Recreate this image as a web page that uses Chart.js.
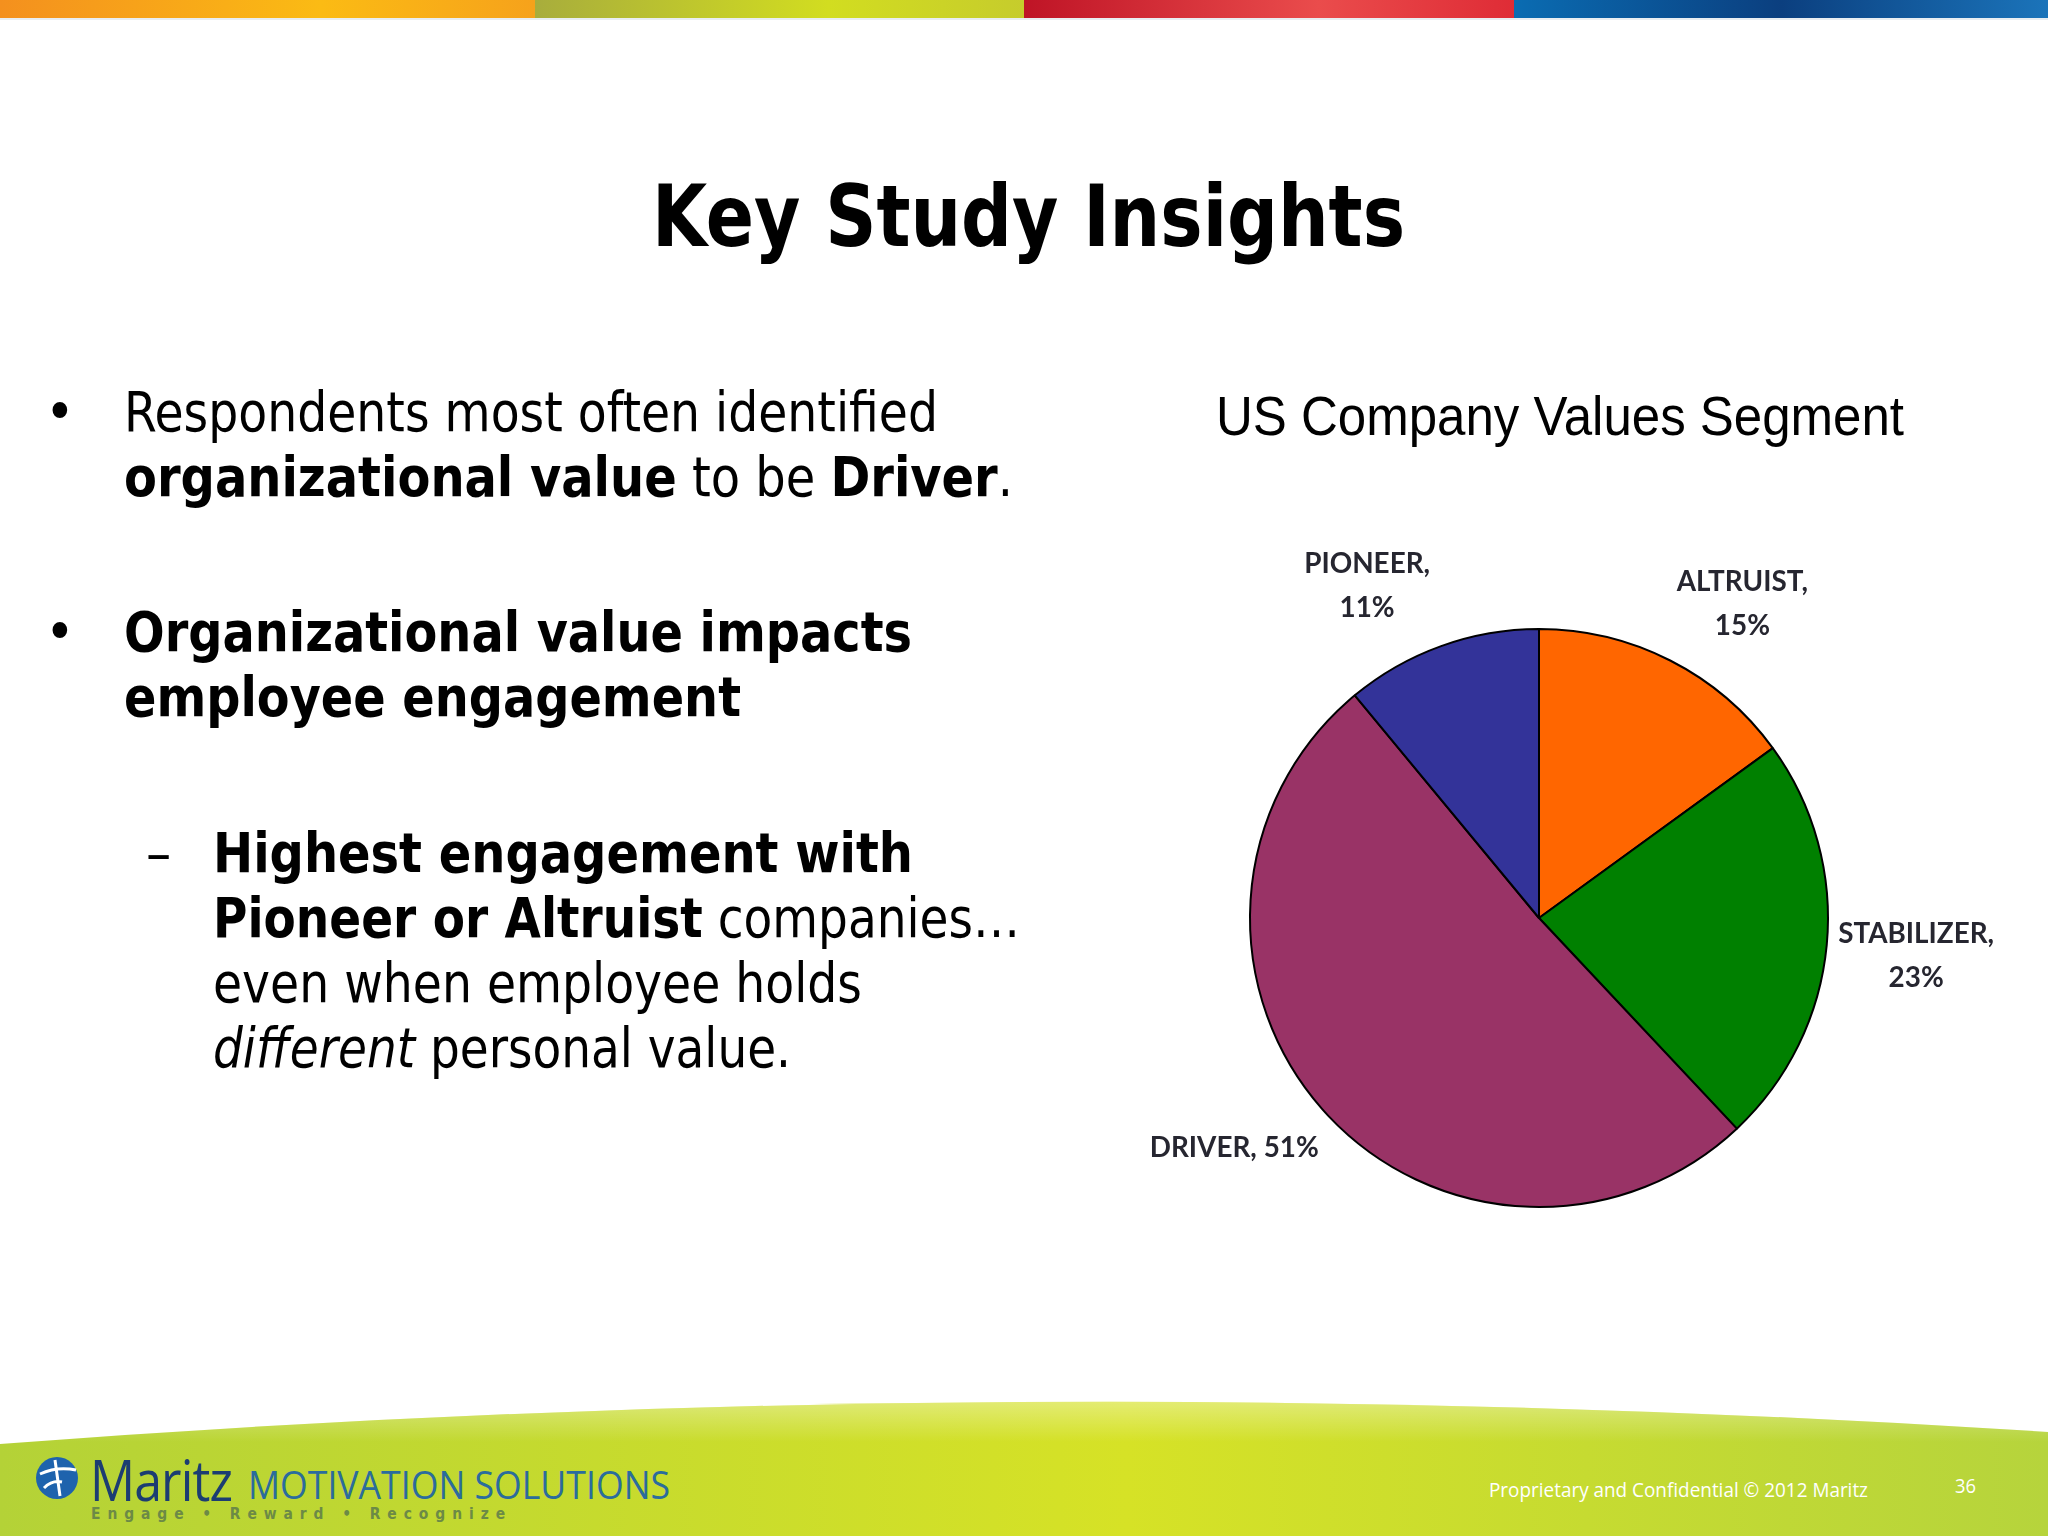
<!DOCTYPE html>
<html>
<head>
<meta charset="utf-8">
<title>Key Study Insights</title>
<script src="https://cdn.jsdelivr.net/npm/chart.js@4.4.0/dist/chart.umd.min.js"></script>
<style>
    html, body { margin: 0; padding: 0; }
    body {
        width: 2048px; height: 1536px; position: relative; overflow: hidden;
        background: #fff; color: #000;
        font-family: "DejaVu Sans Condensed", "DejaVu Sans", sans-serif;
    }
    .topbar { position: absolute; left: 0; top: 0; width: 2048px; height: 18px; display: flex; border-bottom: 2px solid #e9eef2; }
    .topbar div { height: 18px; }
    .seg1 { width: 535px; background: linear-gradient(90deg, #f4901e, #fbbb14 60%, #f6a21b); }
    .seg2 { width: 489px; background: linear-gradient(90deg, #a8ad3c, #d2dd20 60%, #c6cc2c); }
    .seg3 { width: 490px; background: linear-gradient(90deg, #bf1426, #ea4c4c 60%, #df2c36); }
    .seg4 { width: 534px; background: linear-gradient(90deg, #0a6cb2, #0b3f7f 50%, #1b74ba); }

    .txt { position: absolute; white-space: nowrap; transform-origin: left center; }
    .title { font-weight: bold; font-size: 86px; line-height: 100px; }
    .body { font-size: 56px; line-height: 66px; }
    .body b { font-weight: bold; }
    .chart-title { font-family: "Liberation Sans", Arial, sans-serif; font-size: 56px; line-height: 66px; }

    #chartWrap { position: absolute; left: 1089px; top: 468px; width: 959px; height: 900px; }

    .footer { position: absolute; left: 0; top: 1396px; }
    .logo-main { font-family: "Open Sans", sans-serif; color: #1c3d72; font-size: 56px; line-height: 66px; letter-spacing: -1px; }
    .logo-sub { font-family: "Open Sans", sans-serif; color: #2b6c9c; font-size: 38px; line-height: 46px; }
    .tagline { font-family: "DejaVu Sans", sans-serif; font-weight: bold; color: #6c8a46; font-size: 16px; line-height: 20px; letter-spacing: 8px; }
    .legal { font-family: "Open Sans", sans-serif; color: #fff; font-size: 20px; line-height: 24px; }
</style>
</head>
<body>

<div class="topbar"><div class="seg1"></div><div class="seg2"></div><div class="seg3"></div><div class="seg4"></div></div>

<div class="txt title" style="left:652px; top:166px;" data-w="753">Key Study Insights</div>

<!-- bullets -->
<div class="txt body" style="left:45px; top:379px;">•</div>
<div class="txt body" style="left:124px; top:379px;" data-w="814">Respondents most often identified</div>
<div class="txt body" style="left:124px; top:444px;" data-w="889"><b>organizational value</b> to be <b>Driver</b>.</div>

<div class="txt body" style="left:45px; top:599px;">•</div>
<div class="txt body" style="left:124px; top:599px;" data-w="788"><b>Organizational value impacts</b></div>
<div class="txt body" style="left:124px; top:664px;" data-w="617"><b>employee engagement</b></div>

<div class="txt body" style="left:146px; top:820px;">–</div>
<div class="txt body" style="left:213px; top:820px;" data-w="700"><b>Highest engagement with</b></div>
<div class="txt body" style="left:213px; top:885px;" data-w="807"><b>Pioneer or Altruist</b> companies…</div>
<div class="txt body" style="left:213px; top:950px;" data-w="649">even when employee holds</div>
<div class="txt body" style="left:213px; top:1015px;" data-w="578"><i>different</i> personal value.</div>

<div class="txt chart-title" style="left:1216px; top:383px;" data-w="688">US Company Values Segment</div>

<div id="chartWrap"><canvas id="pieChart" width="959" height="900"></canvas></div>

<!-- footer band -->
<svg class="footer" width="2048" height="140">
    <defs>
        <linearGradient id="bandGrad" x1="0" y1="0" x2="1" y2="0">
            <stop offset="0" stop-color="#b4d237"/>
            <stop offset="0.55" stop-color="#d6e226"/>
            <stop offset="1" stop-color="#b6d43c"/>
        </linearGradient>
        <linearGradient id="bandFade" x1="0" y1="0" x2="0" y2="1">
            <stop offset="0" stop-color="#ffffff" stop-opacity="0.35"/>
            <stop offset="0.3" stop-color="#ffffff" stop-opacity="0"/>
        </linearGradient>
    </defs>
    <path d="M0,48 Q1024,-30 2048,36 L2048,140 L0,140 Z" fill="url(#bandGrad)"/>
    <path d="M0,48 Q1024,-30 2048,36 L2048,140 L0,140 Z" fill="url(#bandFade)"/>
    <circle cx="57" cy="82" r="21" fill="#1e63ad"/>
    <path d="M40,78 Q57,70 76,74 M55,64 L60,100 M44,92 Q52,84 62,86" stroke="#fff" stroke-width="3" fill="none"/>
</svg>
<div class="txt logo-main" style="left:90px; top:1446px;" data-w="142">Maritz</div>
<div class="txt logo-sub" style="left:248px; top:1461px;" data-w="422">MOTIVATION SOLUTIONS</div>
<div class="txt tagline" style="left:91px; top:1504px;" data-w="421">Engage • Reward • Recognize</div>
<div class="txt legal" style="left:1489px; top:1478px;" data-w="379">Proprietary and Confidential © 2012 Maritz</div>
<div class="txt legal" style="left:1955px; top:1474px;" data-w="21">36</div>

<script>
// === DATA ===
const categories = ['ALTRUIST', 'STABILIZER', 'DRIVER', 'PIONEER'];
const values = [15, 23, 51, 11];
const sliceColors = ['#FF6600', '#008000', '#993366', '#333399'];

// labels that Excel kept on a single line
const singleLine = [false, false, true, false];

// squeeze text lines to the width they have on the slide
const fitText = () => {
    document.querySelectorAll('.txt[data-w]').forEach(el => {
        el.style.transform = '';
        const w = el.getBoundingClientRect().width;
        const target = parseFloat(el.dataset.w);
        if (w > 0) el.style.transform = `scaleX(${target / w})`;
    });
};

// === LABEL PLUGIN (category, value%) outside each slice ===
const sliceLabels = {
    id: 'sliceLabels',
    afterDatasetsDraw(chart, args, opts) {
        const ctx = chart.ctx;
        const meta = chart.getDatasetMeta(0);
        ctx.save();
        ctx.font = opts.font;
        ctx.fillStyle = opts.color;
        ctx.textAlign = 'center';
        ctx.textBaseline = 'middle';

        meta.data.forEach((arc, i) => {
            const p = arc.getProps(['x', 'y', 'startAngle', 'endAngle', 'outerRadius'], true);
            const mid = (p.startAngle + p.endAngle) / 2 + (opts.angleNudge[i] || 0) * Math.PI / 180;
            const dist = p.outerRadius * opts.distance;
            const cx = p.x + Math.cos(mid) * dist;
            const cy = p.y + Math.sin(mid) * dist + opts.shiftY;

            const lines = singleLine[i]
                ? [categories[i] + ', ' + values[i] + '%']
                : [categories[i] + ',', values[i] + '%'];

            const startY = cy - (lines.length - 1) * opts.lineHeight / 2;
            lines.forEach((txt, k) => {
                ctx.save();
                ctx.translate(cx, startY + k * opts.lineHeight);
                ctx.scale(opts.squeeze, 1);
                ctx.fillText(txt, 0, 0);
                ctx.restore();
            });
        });
        ctx.restore();
    }
};

const buildChart = () => {
    new Chart(document.getElementById('pieChart'), {
        type: 'pie',
        data: {
            labels: categories,
            datasets: [{
                data: values,
                backgroundColor: sliceColors,
                borderColor: '#000000',
                borderWidth: 2
            }]
        },
        options: {
            responsive: false,
            animation: false,
            devicePixelRatio: 1,
            layout: { padding: { left: 160, right: 219, top: 160, bottom: 160 } },
            plugins: {
                legend: { display: false },
                tooltip: { enabled: false },
                title: { display: false },
                sliceLabels: {
                    font: 'bold 29px Lato, "Open Sans", sans-serif',
                    color: '#262630',
                    lineHeight: 44,
                    distance: 1.31,
                    squeeze: 0.96,
                    shiftY: 5,
                    angleNudge: [5.5, -0.4, 5.0, -7.2]
                }
            }
        },
        plugins: [sliceLabels]
    });
};

document.fonts.ready.then(() => {
    fitText();
    buildChart();
});
</script>
</body>
</html>
